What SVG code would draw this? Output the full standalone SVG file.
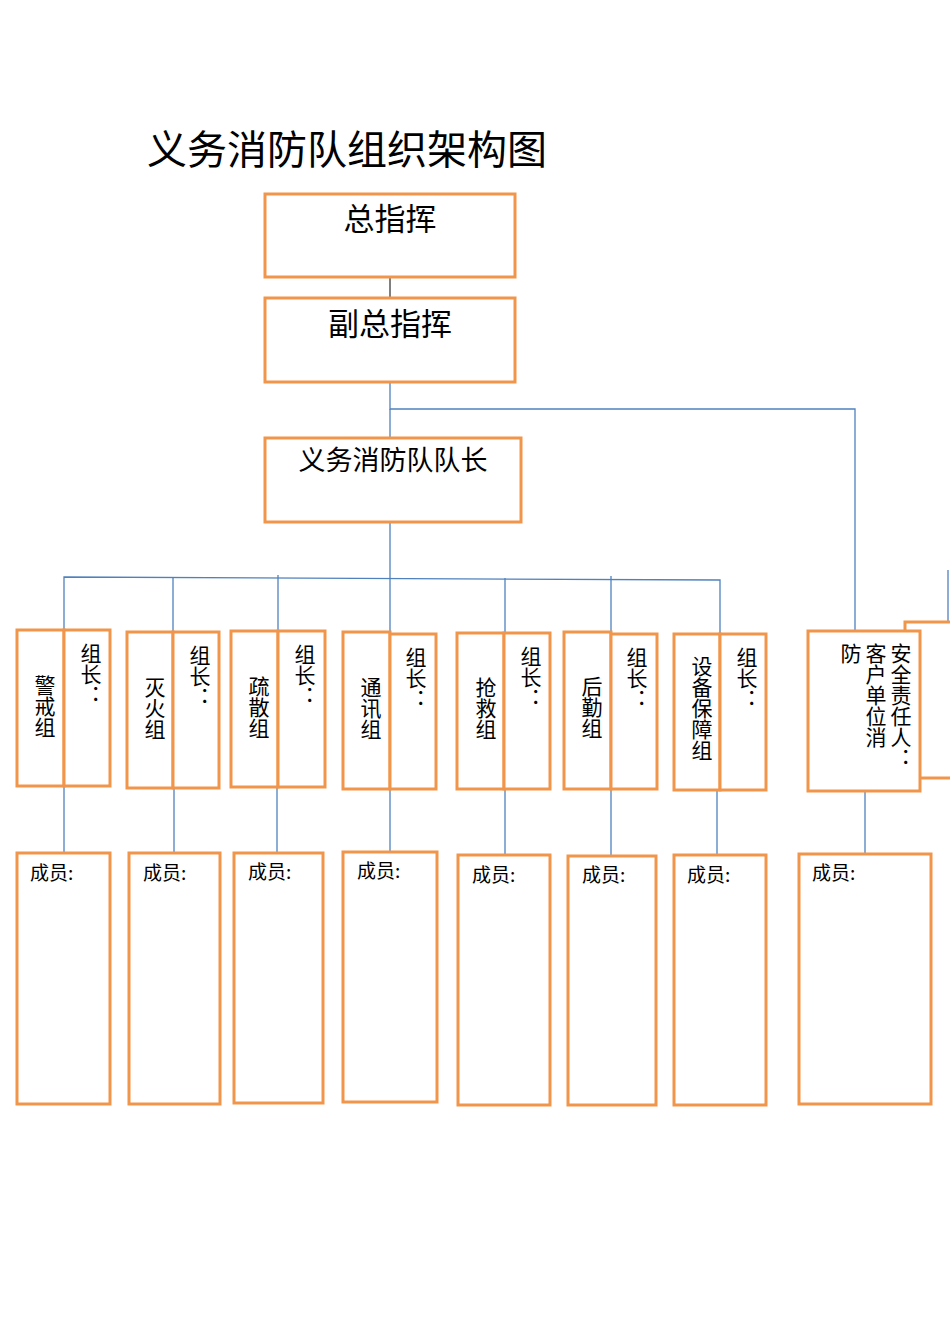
<svg xmlns="http://www.w3.org/2000/svg" width="950" height="1344" viewBox="0 0 950 1344">
<style>
.b{fill:#fff;stroke:#F0954A;stroke-width:3}
.l{stroke:#4F81BD;stroke-width:1.3;fill:none}
text{font-family:"Noto Sans CJK SC","Liberation Serif",serif;fill:#000}
.v{writing-mode:vertical-rl;font-size:21px}
.h{font-size:31px;text-anchor:middle}
.m{font-size:19px}
</style>
<rect width="950" height="1344" fill="#fff"/>
<text x="147" y="164" font-size="40">义务消防队组织架构图</text>
<g id="connectors">
<line x1="390" y1="252" x2="390" y2="298" stroke="#000" stroke-width="1"/>
<polyline class="l" points="390,382 390,409 855,409 855,631"/>
<line class="l" x1="390" y1="409" x2="390" y2="438"/>
<line class="l" x1="390" y1="522" x2="390" y2="632"/>
<polyline class="l" points="64,630 64,577 720,580 720,634"/>
<line class="l" x1="173" y1="577" x2="173" y2="632"/>
<line class="l" x1="278" y1="575" x2="278" y2="631"/>
<line class="l" x1="505" y1="578" x2="505" y2="633"/>
<line class="l" x1="611" y1="576" x2="611" y2="633"/>
<line class="l" x1="948" y1="570" x2="948" y2="622"/>
<line class="l" x1="64" y1="786" x2="64" y2="853"/>
<line class="l" x1="174" y1="788" x2="174" y2="853"/>
<line class="l" x1="277" y1="787" x2="277" y2="853"/>
<line class="l" x1="390" y1="789" x2="390" y2="852"/>
<line class="l" x1="505" y1="789" x2="505" y2="855"/>
<line class="l" x1="611" y1="789" x2="611" y2="856"/>
<line class="l" x1="717" y1="790" x2="717" y2="855"/>
<line class="l" x1="865" y1="788" x2="865" y2="854"/>
</g>
<g id="n-top"><rect class="b" x="265" y="194" width="250" height="83"/><text class="h" x="390" y="230">总指挥</text></g>
<g id="n-vice"><rect class="b" x="265" y="298" width="250" height="84"/><text class="h" x="390" y="335">副总指挥</text></g>
<g id="n-captain"><rect class="b" x="265" y="438" width="256" height="84"/><text x="393" y="470" font-size="27" text-anchor="middle">义务消防队队长</text></g>

<g id="g1"><rect class="b" x="17" y="630" width="47" height="156"/><rect class="b" x="64" y="630" width="46" height="156"/><text class="v" x="45" y="675">警戒组</text><text class="v" x="91" y="643">组长：</text></g>
<g id="g2"><rect class="b" x="127" y="632" width="46" height="156"/><rect class="b" x="173" y="632" width="46" height="156"/><text class="v" x="155" y="677">灭火组</text><text class="v" x="200" y="645">组长：</text></g>
<g id="g3"><rect class="b" x="231" y="631" width="47" height="156"/><rect class="b" x="278" y="631" width="47" height="156"/><text class="v" x="259" y="676">疏散组</text><text class="v" x="305" y="644">组长：</text></g>
<g id="g4"><rect class="b" x="343" y="632" width="47" height="157"/><rect class="b" x="390" y="634" width="46" height="155"/><text class="v" x="371" y="677">通讯组</text><text class="v" x="416" y="647">组长：</text></g>
<g id="g5"><rect class="b" x="457" y="633" width="47" height="156"/><rect class="b" x="504" y="633" width="46" height="156"/><text class="v" x="486" y="677">抢救组</text><text class="v" x="531" y="646">组长：</text></g>
<g id="g6"><rect class="b" x="564" y="632" width="47" height="157"/><rect class="b" x="611" y="634" width="46" height="155"/><text class="v" x="592" y="676">后勤组</text><text class="v" x="637" y="647">组长：</text></g>
<g id="g7"><rect class="b" x="674" y="634" width="46" height="156"/><rect class="b" x="720" y="634" width="46" height="156"/><text class="v" x="702" y="656">设备保障组</text><text class="v" x="747" y="647">组长：</text></g>
<g id="g8"><rect class="b" x="905" y="622" width="50" height="156"/><rect class="b" x="808" y="631" width="112" height="160"/><text class="v" x="901" y="643">安全责任人：</text><text class="v" x="876" y="643">客户单位消</text><text class="v" x="851" y="643">防</text></g>

<g id="m1"><rect class="b" x="17" y="853" width="93" height="251"/><text class="m" x="30" y="880">成员:</text></g>
<g id="m2"><rect class="b" x="129" y="853" width="91" height="251"/><text class="m" x="143" y="880">成员:</text></g>
<g id="m3"><rect class="b" x="234" y="853" width="89" height="250"/><text class="m" x="248" y="879">成员:</text></g>
<g id="m4"><rect class="b" x="343" y="852" width="94" height="250"/><text class="m" x="357" y="878">成员:</text></g>
<g id="m5"><rect class="b" x="458" y="855" width="92" height="250"/><text class="m" x="472" y="882">成员:</text></g>
<g id="m6"><rect class="b" x="568" y="856" width="88" height="249"/><text class="m" x="582" y="882">成员:</text></g>
<g id="m7"><rect class="b" x="674" y="855" width="92" height="250"/><text class="m" x="687" y="882">成员:</text></g>
<g id="m8"><rect class="b" x="799" y="854" width="132" height="250"/><text class="m" x="812" y="880">成员:</text></g>
</svg>
